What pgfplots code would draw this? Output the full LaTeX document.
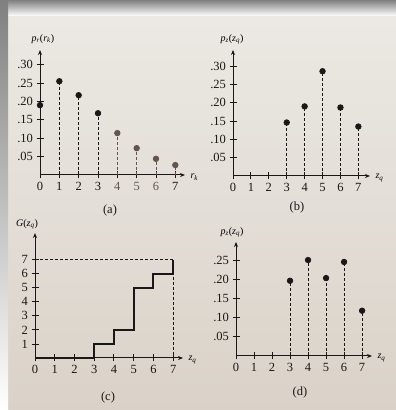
\documentclass[border=0pt]{standalone}
\usepackage{pgfplots}
\pgfplotsset{compat=1.18}
\usepackage{fontspec}
\setmainfont{Liberation Serif}
\usetikzlibrary{arrows.meta}
\definecolor{pagetop}{RGB}{236,234,229}
\definecolor{pagebot}{RGB}{218,210,200}
\definecolor{shade}{RGB}{192,192,194}
\definecolor{ink}{RGB}{25,23,23}
\definecolor{brn}{RGB}{100,84,76}
\newcommand{\ii}[1]{\textit{#1}}
\pgfplotsset{
 panel/.style={
  scale only axis, axis lines=left, clip=false,
  axis line style={ink, line width=1pt, -{Stealth[length=5pt,width=4pt]}},
  tick style={ink, line width=0.9pt}, tick align=center, major tick length=7pt,
  xmin=0, ymin=0, enlargelimits=false,
  xtick={0,...,7}, xticklabels={0,1,2,3,4,5,6,7},
  tick label style={font=\fontsize{12.5}{13}\selectfont, text=ink},
  label style={font=\fontsize{12}{13}\selectfont, text=ink},
  every axis x label/.style={at={(axis description cs:1,0)}, anchor=west, xshift=2pt, yshift=-2pt},
  every axis y label/.style={at={(axis description cs:0,1)}, anchor=south, yshift=2pt},
 },
 stem/.style={ycomb, densely dashed, ink, line width=0.7pt, mark=*, mark size=2.8pt, mark options={solid, fill=ink, draw=ink}},
}
\begin{document}
\begin{tikzpicture}[x=1pt,y=1pt]
\useasboundingbox (0,0) rectangle (396,410);
\shade[top color=pagetop, bottom color=pagebot] (0,0) rectangle (396,410);
\fill[shade] (0,394) rectangle (396,410);
\fill[shade] (0,0) rectangle (8,410);

% (a)
\begin{axis}[panel, at={(40pt,235pt)}, anchor=south west,
  width=145pt, height=125pt, xmax=7.5, ymax=0.34,
  ytick={0.05,0.10,0.15,0.20,0.25,0.30}, yticklabels={.05,.10,.15,.20,.25,.30},
  xticklabels={0,1,2,3,\textcolor{brn}{4},\textcolor{brn}{5},\textcolor{brn}{6},7},
  xlabel={\ii{r}\textsubscript{\ii{k}}},
  ylabel={\ii{p}\textsubscript{\ii{r}}(\ii{r}\textsubscript{\ii{k}})},
  every axis y label/.append style={xshift=3pt, yshift=1pt}]
\addplot[stem] coordinates {(0,0.19) (1,0.255) (2,0.217) (3,0.168)};
\addplot[stem, brn, mark options={solid, fill=brn, draw=brn}] coordinates {(4,0.114) (5,0.073) (6,0.044) (7,0.027)};
\end{axis}
\node[font=\fontsize{12.5}{13}\selectfont, text=ink] at (110,200) {(a)};

% (b)
\begin{axis}[panel, at={(233pt,234pt)}, anchor=south west,
  width=137pt, height=126pt, xmax=7.65, ymax=0.344,
  ytick={0.05,0.10,0.15,0.20,0.25,0.30}, yticklabels={.05,.10,.15,.20,.25,.30},
  xlabel={\ii{z}\textsubscript{\ii{q}}},
  ylabel={\ii{p}\textsubscript{\ii{z}}(\ii{z}\textsubscript{\ii{q}})},
  every axis y label/.append style={xshift=-1pt}]
\addplot[stem] coordinates {(3,0.146) (4,0.19) (5,0.286) (6,0.187) (7,0.135)};
\end{axis}
\node[font=\fontsize{12.5}{13}\selectfont, text=ink] at (297,203) {(b)};

% (c)
\begin{axis}[panel, at={(35pt,52pt)}, anchor=south west,
  width=148pt, height=125pt, xmax=7.5, ymax=8.9,
  ytick={1,...,7}, yticklabels={1,2,3,4,5,6,7},
  xlabel={\ii{z}\textsubscript{\ii{q}}},
  ylabel={\ii{G}(\ii{z}\textsubscript{\ii{q}})},
  every axis y label/.append style={xshift=-8pt, yshift=-2pt}]
\addplot[ink, densely dashed, line width=0.7pt] coordinates {(0,7) (7,7) (7,0)};
\addplot[const plot, ink, line width=1.8pt] coordinates {(0,0) (3,1) (4,2) (5,5) (6,6) (7,7)};
\end{axis}
\node[font=\fontsize{12.5}{13}\selectfont, text=ink] at (108,13) {(c)};

% (d)
\begin{axis}[panel, at={(236pt,54pt)}, anchor=south west,
  width=136pt, height=114pt, xmax=7.55, ymax=0.297,
  ytick={0.05,0.10,0.15,0.20,0.25}, yticklabels={.05,.10,.15,.20,.25},
  xlabel={\ii{z}\textsubscript{\ii{q}}},
  ylabel={\ii{p}\textsubscript{\ii{z}}(\ii{z}\textsubscript{\ii{q}})},
  every axis y label/.append style={xshift=-4pt, yshift=-1pt}]
\addplot[stem] coordinates {(3,0.196) (4,0.25) (5,0.203) (6,0.245) (7,0.118)};
\end{axis}
\node[font=\fontsize{12.5}{13}\selectfont, text=ink] at (300,18) {(d)};
\end{tikzpicture}
\end{document}
